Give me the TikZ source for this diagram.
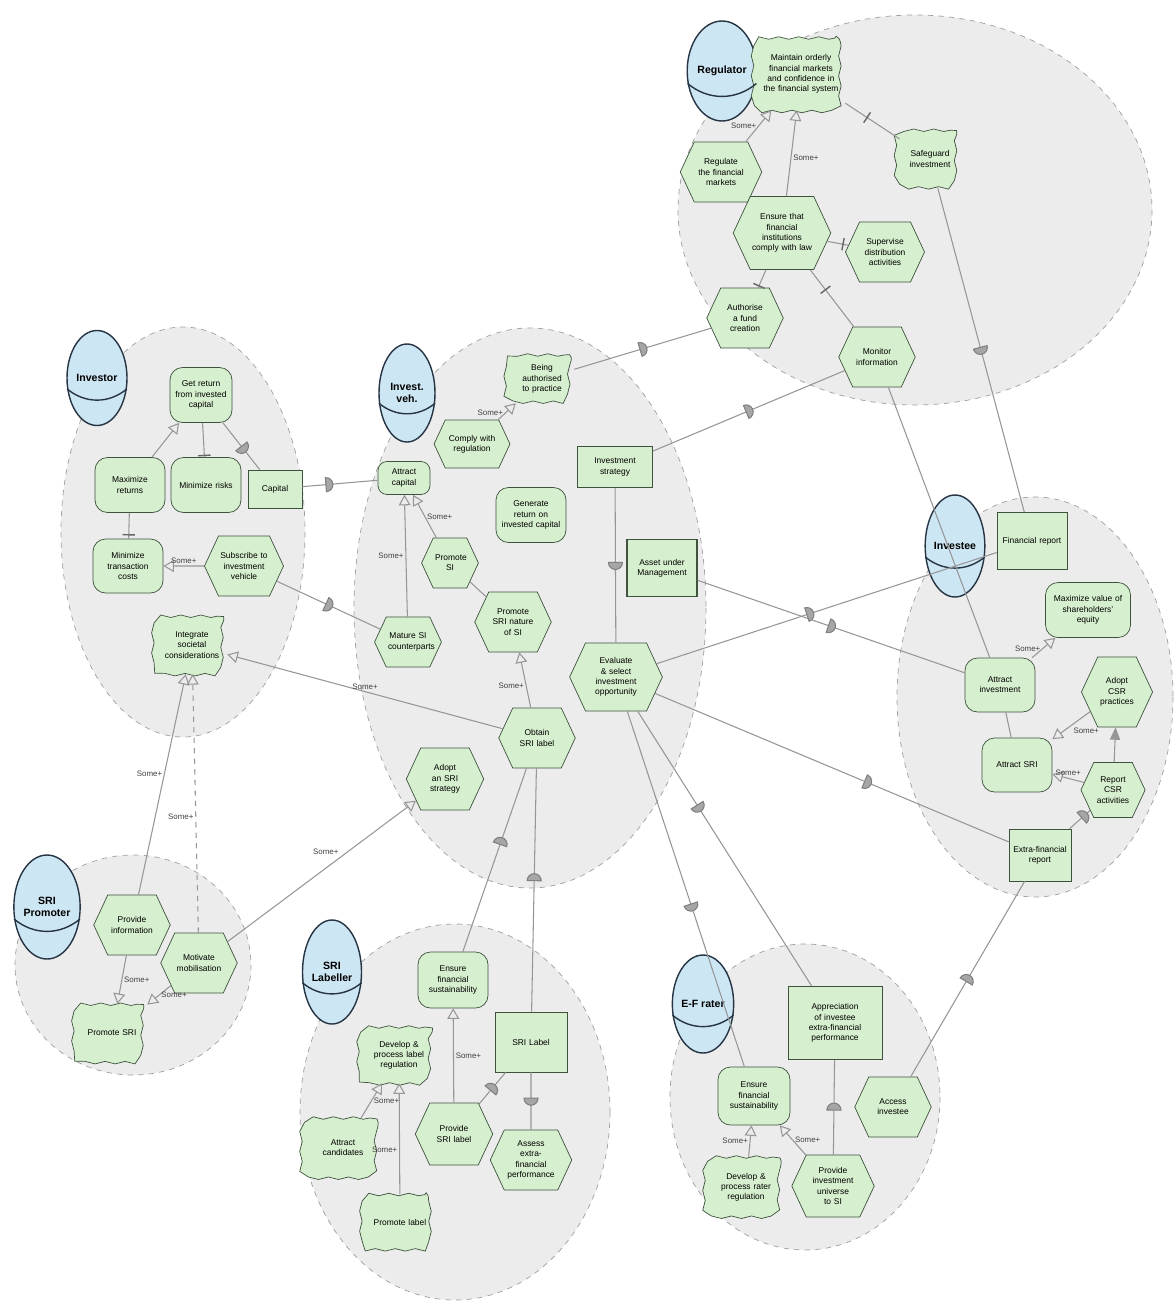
\documentclass[tikz,border=0pt]{standalone}
\usepackage{fontspec}
\setmainfont{Liberation Sans}
\usetikzlibrary{shapes.geometric, shapes.symbols, arrows, decorations.pathmorphing}
\definecolor{bgfill}{RGB}{236,236,236}
\definecolor{elemfill}{RGB}{214,239,206}
\definecolor{elemline}{RGB}{62,82,62}
\definecolor{actorfill}{RGB}{205,230,243}
\definecolor{actorline}{RGB}{38,52,68}
\definecolor{linkgray}{RGB}{150,150,150}
\tikzstyle{boundary} = [draw=gray!75, dashed, fill=bgfill]
\tikzstyle{actor} = [ellipse, draw=actorline, thick, fill=actorfill, minimum width=12mm, minimum height=20mm, inner sep=0pt, align=center, font=\fontsize{6}{7}\selectfont\bfseries]
\tikzstyle{actorcap} = [draw=actorline, thick]
\tikzstyle{elem} = [draw=elemline, fill=elemfill, align=center, inner sep=1pt, font=\fontsize{4.8}{5.8}\selectfont]
\tikzstyle{goal} = [elem, rectangle, rounded corners=2.5mm, minimum width=14mm, minimum height=11mm, text width=12mm]
\tikzstyle{softgoal} = [elem, draw=none, fill=none, rectangle, rounded corners=2mm, minimum width=14mm, minimum height=11.5mm, text width=12mm, postaction={draw=elemline, fill=elemfill, sharp corners, decorate, decoration={snake, amplitude=0.25mm, segment length=4mm}}]
\tikzstyle{task} = [elem, signal, signal to=east and west, signal pointer angle=130, minimum width=14mm, minimum height=12mm, text width=9mm]
\tikzstyle{resource} = [elem, rectangle, minimum width=14mm, minimum height=10mm, text width=12.5mm]
\tikzstyle{link} = [draw=linkgray, semithick]
\tikzstyle{contrib} = [link, ->, >=open triangle 60]
\tikzstyle{lbl} = [font=\fontsize{4.5}{5}\selectfont, text=black!75, inner sep=1pt]
\tikzstyle{dmark} = [semicircle, fill=gray!70, draw=gray, inner sep=0pt, minimum width=8pt, sloped, rotate=-90]
\tikzstyle{tbar} = [fill=gray!80!black, inner sep=0pt, minimum width=0.8pt, minimum height=7pt, sloped]

\begin{document}
\hyphenpenalty=10000
\begin{tikzpicture}[x=0.2mm, y=-0.2mm]
\fill [white] (0,0) rectangle (1174,1302);
\useasboundingbox (0,0) rectangle (1174,1302);

% actor boundaries
\draw [boundary] (915,210) ellipse [x radius=237, y radius=195];
\draw [boundary] (183,532) ellipse [x radius=122, y radius=205];
\draw [boundary] (530,608) ellipse [x radius=176, y radius=280];
\draw [boundary] (1035,697) ellipse [x radius=138, y radius=200];
\draw [boundary] (133,965) ellipse [x radius=118, y radius=110];
\draw [boundary] (455,1112) ellipse [x radius=155, y radius=188];
\draw [boundary] (805,1097) ellipse [x radius=135, y radius=153];

% Regulator
\node [actor] at (722,71) (reg) {Regulator};
\node [softgoal, text width=15.5mm, minimum width=17.6mm, minimum height=14.4mm] at (801,74) (maintain) {Maintain orderly financial markets and confidence in the financial system};
\node [softgoal, minimum width=12mm, text width=10mm] at (930,159) (safeguard) {Safeguard investment};
\node [task, text width=10mm] at (721,172) (regulate) {Regulate the financial markets};
\node [task, text width=12mm, minimum height=14.6mm] at (782,233) (ensurelaw) {Ensure that financial institutions comply with law};
\node [task, text width=9.5mm] at (885,252) (supervise) {Supervise distribution activities};
\node [task] at (745,318) (authorise) {Authorise a fund creation};
\node [task] at (877,357) (monitor) {Monitor information};

% Investor
\node [actor, minimum height=19mm] at (97,378) (inv) {Investor};
\node [goal, minimum width=12.4mm, text width=11mm] at (201,395) (getreturn) {Get return from invested capital};
\node [goal] at (130,485) (maxreturns) {Maximize returns};
\node [goal] at (206,485) (minrisks) {Minimize risks};
\node [resource, minimum width=10.8mm, minimum height=7.6mm, text width=9mm] at (275,489) (capital) {Capital};
\node [goal, minimum height=10.8mm] at (128,566) (mintrans) {Minimize transaction costs};
\node [task, text width=9.5mm] at (244,566) (subscribe) {Subscribe to investment vehicle};
\node [softgoal] at (192,645) (integrate) {Integrate societal considerations};

% Investment vehicle
\node [actor, minimum width=11.2mm, minimum height=19.6mm] at (407,393) (veh) {Invest.\\veh.};
\node [softgoal, minimum width=12.8mm, minimum height=9.6mm, text width=11mm] at (542,379) (beingauth) {Being authorised to practice};
\node [task, minimum height=9.6mm, text width=10mm] at (472,444) (comply) {Comply with regulation};
\node [goal, minimum width=10.4mm, minimum height=6.6mm, text width=9mm, rounded corners=1.8mm] at (404,478) (attractcap) {Attract capital};
\node [goal] at (531,515) (genreturn) {Generate return on invested capital};
\node [resource, minimum width=15mm, minimum height=8.2mm] at (615,467) (invstrat) {Investment strategy};
\node [resource, thick, minimum height=11.4mm] at (662,568) (aum) {Asset under Management};
\node [task, minimum width=10mm, minimum height=10mm, text width=6mm] at (450,563) (promotesi) {Promote SI};
\node [task] at (513,622) (promotesri) {Promote SRI nature of SI};
\node [task, minimum width=11.4mm, minimum height=10mm, text width=8mm] at (408,642) (mature) {Mature SI counterparts};
\node [task, text width=11.5mm, minimum height=13.6mm] at (616,677) (evaluate) {Evaluate \& select investment opportunity};
\node [task] at (537,738) (obtain) {Obtain SRI label};
\node [task, minimum height=12.4mm] at (445,779) (adoptsri) {Adopt an SRI strategy};

% Investee
\node [actor, minimum width=11.2mm, minimum height=20.4mm] at (955,546) (invee) {Investee};
\node [resource, minimum height=11.4mm] at (1032,541) (finreport) {Financial report};
\node [goal, minimum width=17mm, text width=15mm] at (1088,610) (maxvalue) {Maximize value of shareholders' equity};
\node [goal, minimum height=10.8mm] at (1000,685) (attractinv) {Attract investment};
\node [task, minimum width=11.4mm, minimum height=14mm, text width=7mm] at (1117,692) (adoptcsr) {Adopt CSR practices};
\node [goal, minimum height=10.8mm] at (1017,765) (attractsri) {Attract SRI};
\node [task, minimum width=11mm, minimum height=11mm, text width=7mm] at (1113,790) (reportcsr) {Report CSR activities};
\node [resource, minimum width=12.4mm, minimum height=10.4mm, text width=11mm] at (1040,855) (efreport) {Extra-financial report};

% SRI Promoter
\node [actor, minimum height=20.8mm] at (47,907) (prom) {SRI\\Promoter};
\node [task] at (132,925) (provideinfo) {Provide information};
\node [task, minimum width=15mm] at (199,963) (motivate) {Motivate mobilisation};
\node [softgoal] at (112,1033) (promotesrip) {Promote SRI};

% SRI Labeller
\node [actor, minimum width=11.8mm, minimum height=20.8mm] at (332,972) (lab) {SRI\\Labeller};
\node [goal, minimum height=11.2mm] at (453,980) (lensure) {Ensure financial sustainability};
\node [resource, minimum width=14.4mm, minimum height=12mm] at (531,1042) (srilabel) {SRI Label};
\node [softgoal, minimum width=14.4mm, minimum height=11.2mm] at (399,1055) (develop) {Develop \& process label regulation};
\node [softgoal, minimum width=14.6mm, minimum height=12mm] at (343,1148) (attractcand) {Attract candidates};
\node [task, minimum height=12.4mm] at (454,1134) (providesri) {Provide SRI label};
\node [task, text width=10mm] at (531,1160) (assess) {Assess extra-financial performance};
\node [softgoal, minimum height=11mm] at (400,1222) (promotelabel) {Promote label};

% E-F rater
\node [actor, minimum width=11.6mm, minimum height=19.6mm] at (703,1004) (rater) {E-F rater};
\node [resource, minimum width=18.8mm, minimum height=14.6mm, text width=16mm] at (835,1023) (appreciation) {Appreciation of investee extra-financial performance};
\node [goal, minimum width=14.4mm, minimum height=11.6mm] at (754,1096) (efensure) {Ensure financial sustainability};
\node [task] at (893,1107) (access) {Access investee};
\node [softgoal, minimum width=14.6mm, minimum height=12mm] at (746,1187) (developrater) {Develop \& process rater regulation};
\node [task, minimum height=12.4mm, text width=10mm] at (833,1186) (provideuniv) {Provide investment universe to SI};

% actor caps
\draw [actorcap] (reg.200) to[bend right=40] (reg.340);
\draw [actorcap] (inv.200) to[bend right=40] (inv.340);
\draw [actorcap] (veh.200) to[bend right=40] (veh.340);
\draw [actorcap] (invee.200) to[bend right=40] (invee.340);
\draw [actorcap] (prom.200) to[bend right=40] (prom.340);
\draw [actorcap] (lab.200) to[bend right=40] (lab.340);
\draw [actorcap] (rater.200) to[bend right=40] (rater.340);

% links inside Regulator
\draw [contrib] (regulate) -- node[lbl, pos=0.5, left] {Some+} (maintain);
\draw [contrib] (ensurelaw) -- node[lbl, pos=0.45, right] {Some+} (maintain);
\draw [link] (safeguard) -- node[tbar, pos=0.6] {} (maintain);
\draw [link] (ensurelaw) -- node[tbar, pos=0.75] {} (supervise);
\draw [link] (ensurelaw) -- node[tbar, pos=0.35] {} (monitor);
\draw [link] (authorise) -- node[tbar, pos=0.1] {} (ensurelaw);

% links inside Investor
\draw [contrib] (maxreturns) -- (getreturn);
\draw [link] (getreturn) -- node[tbar, pos=0.95] {} (minrisks);
\draw [link] (maxreturns) -- node[tbar, pos=0.85] {} (mintrans);
\draw [contrib] (subscribe) -- node[lbl, midway, above] {Some+} (mintrans);

% links inside Invest. veh.
\draw [contrib] (comply) -- node[lbl, pos=0.4, left] {Some+} (beingauth);
\draw [contrib] (promotesi) -- node[lbl, pos=0.5, right] {Some+} (attractcap);
\draw [contrib] (mature) -- node[lbl, pos=0.5, left] {Some+} (attractcap);
\draw [link] (promotesi) -- (promotesri);
\draw [contrib] (obtain) -- node[lbl, pos=0.4, left] {Some+} (promotesri);

% links inside Investee
\draw [contrib] (attractinv) -- node[lbl, pos=0.45, left] {Some+} (maxvalue);
\draw [link] (attractinv) -- (attractsri);
\draw [contrib] (adoptcsr) -- node[lbl, pos=0.5, below right] {Some+} (attractsri);
\draw [contrib] (reportcsr) -- node[lbl, pos=0.5, above] {Some+} (attractsri);
\draw [link, -triangle 45] (reportcsr) -- (adoptcsr);

% links inside SRI Promoter
\draw [contrib] (provideinfo) -- node[lbl, pos=0.5, right] {Some+} (promotesrip);
\draw [contrib] (motivate) -- node[lbl, pos=0.5, right] {Some+} (promotesrip);

% links inside SRI Labeller
\draw [contrib] (attractcand) -- node[lbl, pos=0.5, right] {Some+} (develop);
\draw [contrib] (promotelabel) -- node[lbl, pos=0.4, left] {Some+} (develop);
\draw [contrib] (providesri) -- node[lbl, pos=0.5, right] {Some+} (lensure);

% links inside E-F rater
\draw [contrib] (developrater) -- node[lbl, pos=0.5, left] {Some+} (efensure);
\draw [contrib] (provideuniv) -- node[lbl, pos=0.5, right] {Some+} (efensure);

% dependencies between actors
\draw [link] (getreturn) -- node[dmark, pos=0.55] {} (capital);
\draw [link] (capital) -- node[dmark, pos=0.35] {} (attractcap);
\draw [link] (subscribe) -- node[dmark, pos=0.5] {} (mature);
\draw [link] (beingauth) -- node[dmark, pos=0.5] {} (authorise);
\draw [link] (invstrat) -- node[dmark, pos=0.5] {} (monitor);
\draw [link] (monitor) -- (attractinv);
\draw [link] (safeguard) -- node[dmark, pos=0.5] {} (finreport);
\draw [link] (evaluate) -- node[dmark, pos=0.5] {} (invstrat);
\draw [link] (aum) -- node[dmark, pos=0.5] {} (attractinv);
\draw [link] (evaluate) -- node[dmark, pos=0.45] {} (finreport);
\draw [link] (evaluate) -- node[dmark, pos=0.6] {} (efreport);
\draw [link] (evaluate) -- node[dmark, pos=0.55] {} (efensure);
\draw [link] (evaluate) -- node[dmark, pos=0.35] {} (appreciation);
\draw [link] (obtain) -- node[dmark, pos=0.45] {} (srilabel);
\draw [link] (obtain) -- node[dmark, pos=0.4] {} (lensure);
\draw [contrib] (obtain) -- node[lbl, pos=0.5, above] {Some+} (integrate);
\draw [contrib] (motivate) -- node[lbl, pos=0.6, above left] {Some+} (adoptsri);
\draw [contrib] (provideinfo) -- node[lbl, pos=0.55, left] {Some+} (integrate);
\draw [contrib, dashed] (motivate) -- node[lbl, pos=0.45, left] {Some+} (integrate);
\draw [link] (access) -- node[dmark, pos=0.5] {} (efreport);
\draw [link] (efreport) -- node[dmark, pos=0.7] {} (reportcsr);
\draw [link] (srilabel) -- node[dmark, pos=0.5] {} (providesri);
\draw [link] (srilabel) -- node[dmark, pos=0.5] {} (assess);
\draw [link] (appreciation) -- node[dmark, pos=0.5] {} (provideuniv);
\end{tikzpicture}
\end{document}
